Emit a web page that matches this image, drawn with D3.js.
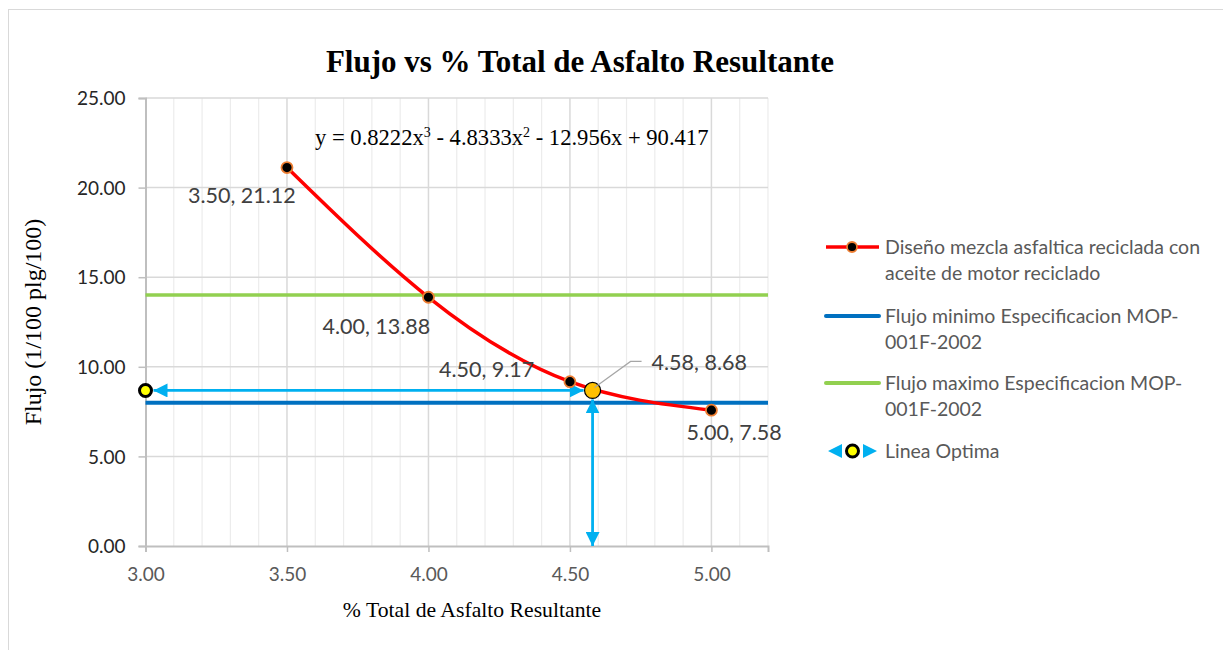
<html>
<head>
  <meta charset="utf-8" />
  <script src="https://d3js.org/d3.v7.min.js"></script>
</head>
<body style="margin: 0; background: white">
<script>

// data
const asfalto = [3.50, 4.00, 4.50, 5.00]
const flujo = [21.12, 13.88, 9.17, 7.58]
const flujoMin = 8
const flujoMax = 14
const optimo = [4.58, 8.68]
const xTicks = [3.0, 3.5, 4.0, 4.5, 5.0]
const yTicks = [0, 5, 10, 15, 20, 25]
const ecuacion = ['y = 0.8222x', '3', ' - 4.8333x', '2', ' - 12.956x + 90.417']
const legendLabels = [
  ['Diseño mezcla asfaltica reciclada con', 'aceite de motor reciclado'],
  ['Flujo minimo Especificacion MOP-', '001F-2002'],
  ['Flujo maximo Especificacion MOP-', '001F-2002'],
  ['Linea Optima']
]

const width = 1223, height = 650
const serif = '"Liberation Serif", "Times New Roman", serif'
const sans = 'Lato, "Open Sans", sans-serif'

var svg = d3.select("body").append("svg")
  .attr("width", width)
  .attr("height", height)

// outer chart frame
svg.append("rect")
  .attr("x", 8.5).attr("y", 9.5)
  .attr("width", 1230).attr("height", 660)
  .attr("fill", "white").attr("stroke", "#d9d9d9")

let x = d3.scaleLinear().domain([3, 5.2]).range([145.5, 768])
let y = d3.scaleLinear().domain([0, 25]).range([546, 98])

// grid
let minor = d3.range(3.1, 5.21, 0.1).filter(v => Math.abs(v * 2 - Math.round(v * 2)) > 0.01)
svg.append("g").selectAll("line").data(minor).enter().append("line")
  .attr("x1", d => x(d)).attr("x2", d => x(d))
  .attr("y1", y(25)).attr("y2", y(0))
  .attr("stroke", "#ececec").attr("stroke-width", 1.2)
svg.append("g").selectAll("line").data(xTicks.slice(1)).enter().append("line")
  .attr("x1", d => x(d)).attr("x2", d => x(d))
  .attr("y1", y(25)).attr("y2", y(0))
  .attr("stroke", "#d9d9d9").attr("stroke-width", 1.5)
svg.append("g").selectAll("line").data(yTicks.slice(1)).enter().append("line")
  .attr("x1", x(3)).attr("x2", x(5.2))
  .attr("y1", d => y(d)).attr("y2", d => y(d))
  .attr("stroke", "#d9d9d9").attr("stroke-width", 1.5)

// axes
let xAxis = svg.append("g").attr("transform", `translate(0,${y(0)})`)
  .call(d3.axisBottom(x).tickValues(xTicks).tickFormat(d3.format(".2f")).tickSize(6).tickPadding(16))
let yAxis = svg.append("g").attr("transform", `translate(${x(3)},0)`)
  .call(d3.axisLeft(y).tickValues(yTicks).tickFormat(d3.format(".2f")).tickSize(7).tickPadding(13))
xAxis.select(".domain").attr("stroke", "#bfbfbf").attr("stroke-width", 2)
yAxis.select(".domain").attr("stroke", "#bfbfbf").attr("stroke-width", 2)
svg.selectAll(".tick line").attr("stroke", "#bfbfbf").attr("stroke-width", 1.5)
xAxis.selectAll("text").attr("font-family", sans).attr("font-size", 19).attr("fill", "#595959")
yAxis.selectAll("text").attr("font-family", sans).attr("font-size", 19).attr("fill", "#262626")
  .attr("dy", "0.35em")

// spec lines
svg.append("line")
  .attr("x1", x(3)).attr("x2", x(5.2)).attr("y1", y(flujoMax)).attr("y2", y(flujoMax))
  .attr("stroke", "#92d050").attr("stroke-width", 3.5)
svg.append("line")
  .attr("x1", x(3)).attr("x2", x(5.2)).attr("y1", y(flujoMin)).attr("y2", y(flujoMin))
  .attr("stroke", "#0070c0").attr("stroke-width", 4)

// arrow heads
let defs = svg.append("defs")
defs.append("marker").attr("id", "arr")
  .attr("viewBox", "0 0 10 10").attr("refX", 10).attr("refY", 5)
  .attr("markerWidth", 5).attr("markerHeight", 5).attr("orient", "auto-start-reverse")
  .attr("markerUnits", "strokeWidth")
  .append("path").attr("d", "M0,0 L10,5 L0,10 Z").attr("fill", "#00b0f0")

// linea optima
svg.append("line")
  .attr("x1", x(3) + 8).attr("x2", x(optimo[0]) - 9)
  .attr("y1", y(optimo[1])).attr("y2", y(optimo[1]))
  .attr("stroke", "#00b0f0").attr("stroke-width", 2.8)
  .attr("marker-start", "url(#arr)").attr("marker-end", "url(#arr)")
svg.append("line")
  .attr("x1", x(optimo[0])).attr("x2", x(optimo[0]))
  .attr("y1", y(optimo[1]) + 9).attr("y2", y(0))
  .attr("stroke", "#00b0f0").attr("stroke-width", 2.8)
  .attr("marker-start", "url(#arr)").attr("marker-end", "url(#arr)")

// main series
let pts = asfalto.map((a, i) => [a, flujo[i]])
svg.append("path").datum(pts)
  .attr("d", d3.line().x(d => x(d[0])).y(d => y(d[1])).curve(d3.curveNatural))
  .attr("fill", "none").attr("stroke", "#ff0000").attr("stroke-width", 3.5)

svg.append("g").selectAll("circle").data(pts).enter().append("circle")
  .attr("cx", d => x(d[0])).attr("cy", d => y(d[1])).attr("r", 5.5)
  .attr("fill", "black").attr("stroke", "#ed7d31").attr("stroke-width", 1.8)

// optimo markers
svg.append("circle").attr("cx", x(3)).attr("cy", y(optimo[1])).attr("r", 6)
  .attr("fill", "#ffff00").attr("stroke", "black").attr("stroke-width", 3)
svg.append("circle").attr("cx", x(optimo[0])).attr("cy", y(optimo[1])).attr("r", 8)
  .attr("fill", "#ffc000").attr("stroke", "black").attr("stroke-width", 1.2)

// leader line for optimo label
svg.append("polyline")
  .attr("points", `${x(optimo[0]) + 2},${y(optimo[1]) - 3} ${x(optimo[0]) + 38},${y(optimo[1]) - 29} ${x(optimo[0]) + 49},${y(optimo[1]) - 29}`)
  .attr("fill", "none").attr("stroke", "#a6a6a6").attr("stroke-width", 1.2)

// data labels
let fmt = d3.format(".2f")
let labelOffsets = [[-99, 35], [-106, 37], [-131, -5], [-25, 30]]
svg.append("g").selectAll("text").data(pts).enter().append("text")
  .attr("x", (d, i) => x(d[0]) + labelOffsets[i][0])
  .attr("y", (d, i) => y(d[1]) + labelOffsets[i][1])
  .text(d => fmt(d[0]) + ", " + fmt(d[1]))
  .attr("font-family", sans).attr("font-size", 21.5).attr("fill", "#404040")
svg.append("text")
  .attr("x", x(optimo[0]) + 59).attr("y", y(optimo[1]) - 20)
  .text(fmt(optimo[0]) + ", " + fmt(optimo[1]))
  .attr("font-family", sans).attr("font-size", 21.5).attr("fill", "#404040")

// trendline equation
let eq = svg.append("text").attr("x", 315).attr("y", 145)
  .attr("font-family", serif).attr("font-size", 22.6).attr("fill", "black")
ecuacion.forEach((s, i) => {
  let t = eq.append("tspan").text(s)
  if (i % 2 == 1) t.attr("font-size", 14).attr("dy", -8)
  else if (i > 0) t.attr("dy", 8)
})

// titles
svg.append("text").attr("x", 580).attr("y", 72).attr("text-anchor", "middle")
  .text("Flujo vs % Total de Asfalto Resultante")
  .attr("font-family", serif).attr("font-size", 31).attr("font-weight", "bold")
svg.append("text").attr("x", 472).attr("y", 617).attr("text-anchor", "middle")
  .text("% Total de Asfalto Resultante")
  .attr("font-family", serif).attr("font-size", 21.7)
svg.append("text").attr("transform", "translate(41,322) rotate(-90)").attr("text-anchor", "middle")
  .text("Flujo (1/100 plg/100)")
  .attr("font-family", serif).attr("font-size", 24)

// legend
let legendY = [247, 316, 383, 451]
let leg = svg.append("g").selectAll("g").data(legendLabels).enter().append("g")
  .attr("transform", (d, i) => `translate(826,${legendY[i]})`)
leg.each(function(d, i) {
  let g = d3.select(this)
  if (i == 0) {
    g.append("line").attr("x1", 0).attr("x2", 53).attr("stroke", "#ff0000").attr("stroke-width", 3.5)
    g.append("circle").attr("cx", 26).attr("r", 5).attr("fill", "black").attr("stroke", "#ed7d31").attr("stroke-width", 1.8)
  } else if (i == 1 || i == 2) {
    g.append("line").attr("x1", 0).attr("x2", 53).attr("stroke", i == 1 ? "#0070c0" : "#92d050")
      .attr("stroke-width", 4).attr("stroke-linecap", "round")
  } else {
    g.append("path").attr("d", "M2,0 L16,-7 L16,7 Z M51,0 L37,-7 L37,7 Z").attr("fill", "#00b0f0")
    g.append("circle").attr("cx", 26.5).attr("r", 6).attr("fill", "#ffff00").attr("stroke", "black").attr("stroke-width", 3)
  }
  d.forEach((line, j) => {
    g.append("text").attr("x", 59).attr("y", j * 26).attr("dy", "0.35em")
      .text(line).attr("font-family", sans).attr("font-size", 19.5).attr("fill", "#595959")
  })
})

</script>
</body>
</html>
